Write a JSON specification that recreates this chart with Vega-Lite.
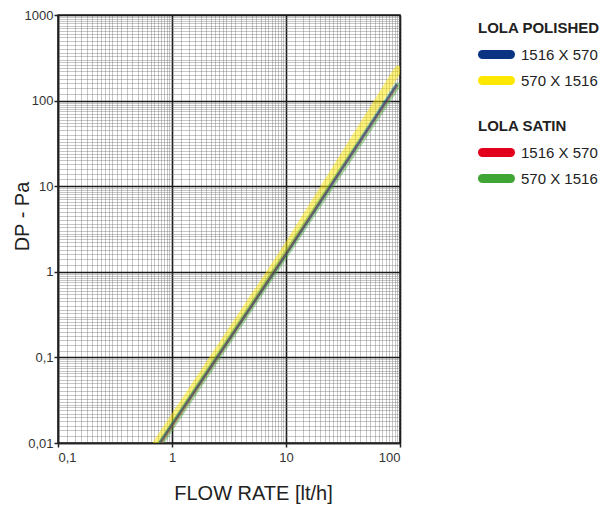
{
  "$schema": "https://vega.github.io/schema/vega-lite/v6.json",
  "width": 342,
  "height": 428,
  "autosize": {"type": "none"},
  "padding": {"left": 58, "top": 15, "right": 205, "bottom": 63},
  "background": "white",
  "config": {
    "view": {"stroke": "#222", "strokeWidth": 1.5},
    "font": "Liberation Sans"
  },
  "encoding": {
    "x": {
      "field": "q", "type": "quantitative",
      "scale": {"type": "log", "domain": [0.1, 100], "nice": false, "zero": false},
      "axis": {
        "title": "FLOW RATE [lt/h]",
        "titleFont": "Liberation Sans", "titleFontSize": 20, "titleFontWeight": "normal", "titleColor": "#222",
        "titleX": 195, "titleY": 56, "titleBaseline": "alphabetic", "titleAnchor": "middle", "titleAlign": "center",
        "values": [0.1,0.12,0.14,0.16,0.18,0.2,0.22,0.24,0.26,0.28,0.3,0.33,0.36,0.4,0.45,0.5,0.55,0.6,0.65,0.7,0.75,0.8,0.85,0.9,0.95,
                   1,1.2,1.4,1.6,1.8,2,2.2,2.4,2.6,2.8,3,3.3,3.6,4,4.5,5,5.5,6,6.5,7,7.5,8,8.5,9,9.5,
                   10,12,14,16,18,20,22,24,26,28,30,33,36,40,45,50,55,60,65,70,75,80,85,90,95,100],
        "labelExpr": "abs(log(datum.value)/LN10 - round(log(datum.value)/LN10)) < 0.001 ? replace(format(datum.value, '~g'), '.', ',') : ''",
        "labelOverlap": false, "labelFlush": true, "labelFlushOffset": 0,
        "labelFont": "Liberation Sans", "labelFontSize": 13, "labelColor": "#333", "labelPadding": 4,
        "domain": true, "domainColor": "#222", "domainWidth": 1.5,
        "ticks": true, "tickSize": 4, "tickColor": "#222", "tickWidth": 1.5,
        "tickOpacity": {"condition": {"test": "abs(log(datum.value)/LN10 - round(log(datum.value)/LN10)) < 0.001", "value": 1}, "value": 0},
        "grid": true,
        "gridColor": {"condition": {"test": "abs(log(datum.value)/LN10 - round(log(datum.value)/LN10)) < 0.001", "value": "#1a1a1a"}, "value": "#707070"},
        "gridOpacity": {"condition": {"test": "abs(log(datum.value)/LN10 - round(log(datum.value)/LN10)) < 0.001", "value": 1}, "value": 0.4},
        "gridWidth": {"condition": {"test": "abs(log(datum.value)/LN10 - round(log(datum.value)/LN10)) < 0.001", "value": 1.6}, "value": 1}
      }
    },
    "y": {
      "field": "dp", "type": "quantitative",
      "scale": {"type": "log", "domain": [0.01, 1000], "nice": false, "zero": false},
      "axis": {
        "title": "DP - Pa",
        "titleFont": "Liberation Sans", "titleFontSize": 20, "titleFontWeight": "normal", "titleColor": "#222",
        "titleX": -30, "titleY": 201, "titleBaseline": "alphabetic", "titleAlign": "center", "titleAngle": -90,
        "values": [0.01,0.012,0.014,0.016,0.018,0.02,0.022,0.024,0.026,0.028,0.03,0.033,0.036,0.04,0.045,0.05,0.055,0.06,0.065,0.07,0.075,0.08,0.085,0.09,0.095,
                   0.1,0.12,0.14,0.16,0.18,0.2,0.22,0.24,0.26,0.28,0.3,0.33,0.36,0.4,0.45,0.5,0.55,0.6,0.65,0.7,0.75,0.8,0.85,0.9,0.95,
                   1,1.2,1.4,1.6,1.8,2,2.2,2.4,2.6,2.8,3,3.3,3.6,4,4.5,5,5.5,6,6.5,7,7.5,8,8.5,9,9.5,
                   10,12,14,16,18,20,22,24,26,28,30,33,36,40,45,50,55,60,65,70,75,80,85,90,95,
                   100,120,140,160,180,200,220,240,260,280,300,330,360,400,450,500,550,600,650,700,750,800,850,900,950,1000],
        "labelExpr": "abs(log(datum.value)/LN10 - round(log(datum.value)/LN10)) < 0.001 ? replace(format(datum.value, '~g'), '.', ',') : ''",
        "labelOverlap": false, "labelFlush": false,
        "labelFont": "Liberation Sans", "labelFontSize": 13, "labelColor": "#333", "labelPadding": 1,
        "domain": true, "domainColor": "#222", "domainWidth": 1.5,
        "ticks": true, "tickSize": 4, "tickColor": "#222", "tickWidth": 1.5,
        "tickOpacity": {"condition": {"test": "abs(log(datum.value)/LN10 - round(log(datum.value)/LN10)) < 0.001", "value": 1}, "value": 0},
        "grid": true,
        "gridColor": {"condition": {"test": "abs(log(datum.value)/LN10 - round(log(datum.value)/LN10)) < 0.001", "value": "#1a1a1a"}, "value": "#707070"},
        "gridOpacity": {"condition": {"test": "abs(log(datum.value)/LN10 - round(log(datum.value)/LN10)) < 0.001", "value": 1}, "value": 0.4},
        "gridWidth": {"condition": {"test": "abs(log(datum.value)/LN10 - round(log(datum.value)/LN10)) < 0.001", "value": 1.6}, "value": 1}
      }
    }
  },
  "layer": [
    {
      "data": {"values": [
        {"q": 0.74, "dp": 0.01, "polished": "570 X 1516"},
        {"q": 10, "dp": 1.85, "polished": "570 X 1516"},
        {"q": 96, "dp": 230, "polished": "570 X 1516"}
      ]},
      "mark": {"type": "line", "clip": true, "strokeWidth": 8, "opacity": 0.5, "strokeCap": "round"},
      "encoding": {
        "color": {
          "field": "polished", "type": "nominal",
          "scale": {"domain": ["1516 X 570", "570 X 1516"], "range": ["#0a3382", "#ffe800"]},
          "legend": {
            "title": "LOLA POLISHED", "orient": "none", "legendX": 420, "legendY": 6,
            "titleFont": "Liberation Sans", "titleFontSize": 15, "titleFontWeight": "bold", "titleColor": "#222", "titlePadding": 6,
            "labelFont": "Liberation Sans", "labelFontSize": 15, "labelColor": "#222", "labelOffset": 12,
            "symbolType": "M-1.75,0L1.75,0", "symbolSize": 256, "symbolStrokeWidth": 9, "symbolOpacity": 1, "symbolOffset": 6,
            "clipHeight": 25, "rowPadding": 1, "padding": 0,
            "encode": {
              "symbols": {"update": {"strokeCap": {"value": "round"}, "opacity": {"value": 1}, "strokeWidth": {"value": 9}}}
            }
          }
        }
      }
    },
    {
      "data": {"values": [
        {"q": 0.8, "dp": 0.01, "satin": "570 X 1516 (satin)"},
        {"q": 10, "dp": 1.6, "satin": "570 X 1516 (satin)"},
        {"q": 95, "dp": 150, "satin": "570 X 1516 (satin)"}
      ]},
      "mark": {"type": "line", "clip": true, "strokeWidth": 6, "opacity": 0.45, "strokeCap": "round"},
      "encoding": {
        "stroke": {
          "field": "satin", "type": "nominal",
          "scale": {"domain": ["1516 X 570 (satin)", "570 X 1516 (satin)"], "range": ["#e2001a", "#3fa535"]},
          "legend": {
            "title": "LOLA SATIN", "orient": "none", "legendX": 420, "legendY": 104,
            "labelExpr": "replace(datum.label, ' (satin)', '')",
            "titleFont": "Liberation Sans", "titleFontSize": 15, "titleFontWeight": "bold", "titleColor": "#222", "titlePadding": 6,
            "labelFont": "Liberation Sans", "labelFontSize": 15, "labelColor": "#222", "labelOffset": 12,
            "symbolType": "M-1.75,0L1.75,0", "symbolSize": 256, "symbolStrokeWidth": 9, "symbolOpacity": 1, "symbolOffset": 6,
            "clipHeight": 25, "rowPadding": 1, "padding": 0,
            "encode": {
              "symbols": {"update": {"strokeCap": {"value": "round"}, "opacity": {"value": 1}, "strokeWidth": {"value": 9}}}
            }
          }
        }
      }
    },
    {
      "data": {"values": [
        {"q": 0.8, "dp": 0.01, "satin": "1516 X 570 (satin)"},
        {"q": 10, "dp": 1.62, "satin": "1516 X 570 (satin)"},
        {"q": 95, "dp": 152, "satin": "1516 X 570 (satin)"}
      ]},
      "mark": {"type": "line", "clip": true, "strokeWidth": 2.5, "opacity": 0.3},
      "encoding": {"stroke": {"field": "satin", "type": "nominal"}}
    },
    {
      "data": {"values": [
        {"q": 0.78, "dp": 0.01, "polished": "1516 X 570"},
        {"q": 10, "dp": 1.6, "polished": "1516 X 570"},
        {"q": 94, "dp": 155, "polished": "1516 X 570"}
      ]},
      "mark": {"type": "line", "clip": true, "strokeWidth": 2.5, "opacity": 0.5},
      "encoding": {"color": {"field": "polished", "type": "nominal"}}
    }
  ]
}
